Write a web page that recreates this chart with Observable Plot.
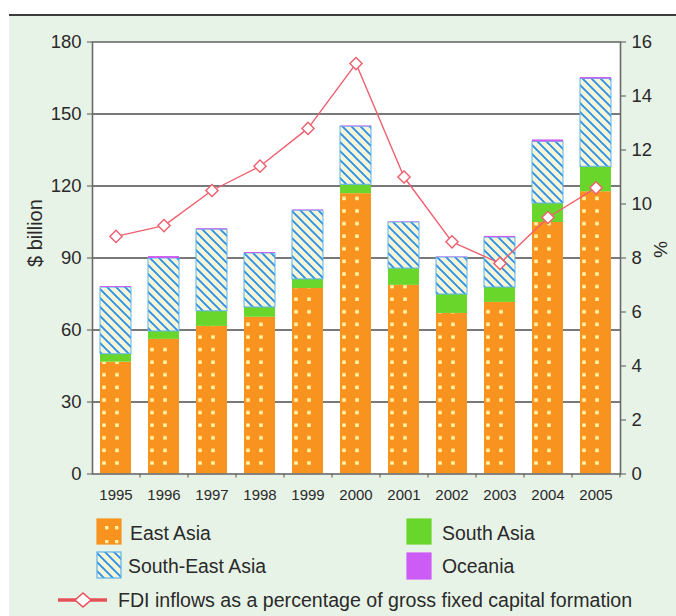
<!DOCTYPE html>
<html>
<head>
<meta charset="utf-8">
<script src="https://cdn.jsdelivr.net/npm/d3@7"></script>
<script src="https://cdn.jsdelivr.net/npm/@observablehq/plot@0.6"></script>
<style>
  html, body { margin: 0; padding: 0; background: #ffffff; width: 676px; height: 616px; overflow: hidden; }
  #bg { position: absolute; left: 9px; top: 14px; width: 667px; height: 602px; background: #e8f3e7; border-top: 2px solid #3c3c3c; box-sizing: border-box; }
  #chart { position: absolute; left: 0; top: 0; }
  #legend { position: absolute; left: 0; top: 510px; }
  text { font-family: "Liberation Sans", Arial, sans-serif; }
</style>
</head>
<body>
<div id="bg"></div>
<div id="chart"></div>
<svg id="legend" width="676" height="106"></svg>
<script>
// ---- data ----
const years = [1995, 1996, 1997, 1998, 1999, 2000, 2001, 2002, 2003, 2004, 2005];
const regions = ["East Asia", "South Asia", "South-East Asia", "Oceania"];
const eastAsia     = [46.6, 56.1, 61.5, 65.3, 77.3, 116.8, 78.6, 66.9, 71.5, 104.8, 117.6];
const southAsia    = [3.3, 3.3, 6.3, 4.1, 3.8, 3.7, 7.0, 7.9, 6.2, 7.9, 10.4];
const southEastAsia= [27.8, 30.4, 34.0, 22.5, 28.6, 24.2, 19.2, 15.4, 20.8, 25.7, 36.6];
const oceania      = [0.4, 0.8, 0.4, 0.4, 0.3, 0.3, 0.2, 0.2, 0.5, 0.8, 0.6];
const fdiPct       = [8.8, 9.2, 10.5, 11.4, 12.8, 15.2, 11.0, 8.6, 7.8, 9.5, 10.6];
const leftTicks  = [0, 30, 60, 90, 120, 150, 180];
const rightTicks = [0, 2, 4, 6, 8, 10, 12, 14, 16];
const yLabel = "$ billion";
const y2Label = "%";
const lineLabel = "FDI inflows as a percentage of gross fixed capital formation";

// ---- build tables ----
const seriesByRegion = {"East Asia": eastAsia, "South Asia": southAsia, "South-East Asia": southEastAsia, "Oceania": oceania};
const table = [];
years.forEach((yr, i) => {
  let acc = 0;
  for (const r of regions) {
    const v = seriesByRegion[r][i];
    table.push({year: yr, region: r, value: v, y1: acc, y2: acc + v});
    acc += v;
  }
});
const yMax = 180, pctMax = 16;
const toLeft = p => p * yMax / pctMax;
const lineData = years.map((yr, i) => ({year: yr, pct: fdiPct[i]}));

const fills = {
  "East Asia": "url(#pEast)",
  "South Asia": "#69d62b",
  "South-East Asia": "url(#pSEA)",
  "Oceania": "#cc5cf5"
};
const strokes = {"South-East Asia": "#5fb2ec"};

const W = 676, H = 510, mL = 92, mR = 56, mT = 41.5, mB = 36.5;
const step = (W - mL - mR) / years.length;
const lineColor = "#ef5f6e";
const font = "Liberation Sans, Arial, sans-serif";

const barMarks = regions.map(r => Plot.barY(table.filter(d => d.region === r), {
  x: "year", y1: "y1", y2: "y2",
  fill: fills[r],
  stroke: strokes[r] || "none",
  strokeWidth: 1
}));

const plot = Plot.plot({
  width: W, height: H,
  marginLeft: mL, marginRight: mR, marginTop: mT, marginBottom: mB,
  style: {background: "transparent", fontFamily: font, color: "#2a2a2a", overflow: "visible"},
  x: {type: "band", domain: years, paddingInner: 0.35, paddingOuter: 0.175, axis: null},
  y: {domain: [0, yMax], axis: null},
  marks: [
    Plot.frame({fill: "white", stroke: "none"}),
    Plot.gridY(leftTicks.filter(d => d > 0 && d < yMax), {stroke: "#6a6a6a", strokeWidth: 1.8, strokeOpacity: 0.9}),
    ...barMarks,
    Plot.frame({stroke: "#6a6a6a", strokeWidth: 1.6}),
    Plot.axisY({anchor: "left", ticks: leftTicks, tickSize: 5, tickPadding: 6, fontSize: 18.5, stroke: "#555", label: null}),
    Plot.axisY({anchor: "right", ticks: rightTicks.map(toLeft), tickFormat: d => String(Math.round(d * pctMax / yMax)),
                tickSize: 5, tickPadding: 6, fontSize: 18.5, stroke: "#555", label: null}),
    Plot.axisX({ticks: years, tickSize: 0, tickPadding: 15, fontSize: 15, tickFormat: d => String(d), label: null}),
    Plot.axisX({ticks: years, tickSize: 4, tickFormat: () => "", stroke: "#555", dx: step / 2, label: null}),
    Plot.line(lineData, {x: "year", y: d => toLeft(d.pct), stroke: lineColor, strokeWidth: 1.4}),
    Plot.dot(lineData, {x: "year", y: d => toLeft(d.pct), symbol: "diamond2", r: 5.5, fill: "white", stroke: lineColor, strokeWidth: 1.4}),
    Plot.text([yLabel], {text: d => d, frameAnchor: "left", dx: -57, dy: 9, rotate: -90, fontSize: 20, fill: "#2a2a2a"}),
    Plot.text([y2Label], {text: d => d, frameAnchor: "right", dx: 40, dy: 0, rotate: 90, fontSize: 19, fill: "#2a2a2a"})
  ]
});

// patterns
const xs = plot.scale("x");
const ys = plot.scale("y");
const x0 = xs.apply(years[0]);
const xStep = xs.step || step;
const yBase = ys.apply(0);
const ns = "http://www.w3.org/2000/svg";
const defs = document.createElementNS(ns, "defs");
defs.innerHTML = `
  <pattern id="pEast" patternUnits="userSpaceOnUse" x="${x0}" y="${yBase}" width="${xStep}" height="12.6">
    <rect width="${xStep}" height="12.6" fill="#f7931e"/>
    <rect x="2.2" y="0.3" width="3.6" height="3.6" fill="#fff3a6"/>
    <rect x="15.2" y="0.3" width="3.6" height="3.6" fill="#fff3a6"/>
  </pattern>
  <pattern id="pSEA" patternUnits="userSpaceOnUse" x="0" y="0" width="9" height="9">
    <rect width="9" height="9" fill="#f6f6d6"/>
    <path d="M-2,-2 L11,11 M-2,7 L2,11 M7,-2 L11,2" stroke="#2b90e8" stroke-width="1.9" fill="none"/>
  </pattern>
  <pattern id="lEast" patternUnits="userSpaceOnUse" x="0" y="0" width="25" height="25">
    <rect width="25" height="25" fill="#f7931e"/>
    <rect x="5" y="5" width="3.4" height="3.4" fill="#fff3a6"/>
    <rect x="15" y="5" width="3.4" height="3.4" fill="#fff3a6"/>
    <rect x="5" y="16" width="3.4" height="3.4" fill="#fff3a6"/>
    <rect x="15" y="16" width="3.4" height="3.4" fill="#fff3a6"/>
  </pattern>`;
plot.insertBefore(defs, plot.firstChild);
document.getElementById("chart").appendChild(plot);

// legend
const lg = d3.select("#legend");
const swatches = [
  {label: "East Asia", x: 97, y: 9, h: 25, fill: "url(#lEast)", stroke: "#f7931e", tx: 130, ty: 29.6},
  {label: "South Asia", x: 407, y: 9, h: 25, fill: fills["South Asia"], stroke: "#69d62b", tx: 442, ty: 29.6},
  {label: "South-East Asia", x: 97, y: 42, h: 26, fill: "url(#pSEA)", stroke: "#5fb2ec", tx: 128, ty: 62.6},
  {label: "Oceania", x: 407, y: 43, h: 26, fill: fills["Oceania"], stroke: "#cc5cf5", tx: 442, ty: 62.6}
];
swatches.forEach(s => {
  lg.append("rect").attr("x", s.x).attr("y", s.y).attr("width", 24).attr("height", s.h)
    .attr("fill", s.fill).attr("stroke", s.stroke).attr("stroke-width", 1.2);
  lg.append("text").attr("x", s.tx).attr("y", s.ty).attr("font-size", 19.4).attr("fill", "#2a2a2a").text(s.label);
});
lg.append("line").attr("x1", 58).attr("x2", 107).attr("y1", 90).attr("y2", 90)
  .attr("stroke", "#e8505a").attr("stroke-width", 3.5);
lg.append("path").attr("d", "M75,90 L83,83 L91,90 L83,97 Z").attr("fill", "white").attr("stroke", "#e8505a").attr("stroke-width", 1.6);
lg.append("text").attr("x", 118).attr("y", 96.6).attr("font-size", 19.6).attr("fill", "#2a2a2a").text(lineLabel);
</script>
</body>
</html>
